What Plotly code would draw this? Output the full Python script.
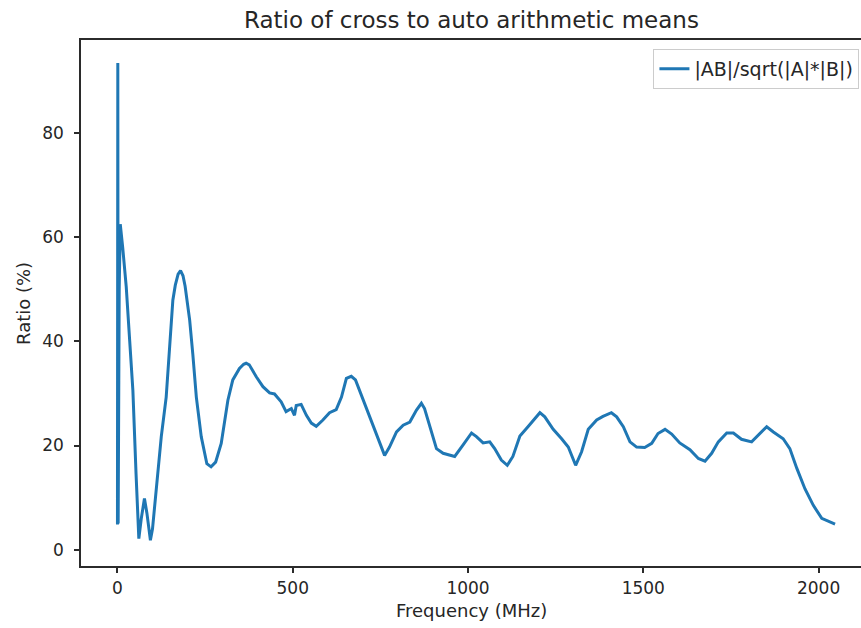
import plotly.graph_objects as go

# Frequency (MHz) and ratio (%)
freq = [0, 1, 2, 5, 8, 15, 25, 35, 44, 53, 61, 68, 77, 84, 94, 100, 110, 125, 139, 150, 158,
        165, 173, 180, 187, 193, 200, 206, 215, 225, 239, 255, 267, 280, 296, 315, 329, 348,
        360, 367, 376, 396, 415, 434, 448, 467, 481, 496, 505, 510, 524, 539, 553, 567, 586,
        605, 624, 639, 653, 667, 679, 700, 724, 748, 762, 776, 796, 815, 834, 853, 867, 876,
        895, 910, 929, 948, 962, 986, 1010, 1024, 1043, 1062, 1076, 1095, 1112, 1128, 1148,
        1171, 1190, 1205, 1219, 1243, 1267, 1286, 1307, 1324, 1343, 1367, 1385, 1409, 1424,
        1443, 1462, 1481, 1504, 1524, 1542, 1562, 1581, 1604, 1633, 1657, 1676, 1695, 1714,
        1738, 1757, 1780, 1809, 1828, 1852, 1871, 1899, 1918, 1938, 1961, 1985, 2009, 2028,
        2047]
ratio = [4.8, 93.5, 5.0, 50.0, 62.5, 58.0, 50.5, 40.0, 30.6, 14.6, 2.1, 6.0, 9.8, 7.0, 1.8,
         4.0, 11.4, 21.7, 29.3, 40.0, 47.9, 50.8, 52.9, 53.6, 52.6, 50.6, 47.5, 44.1, 37.5,
         29.3, 21.7, 16.5, 15.9, 16.8, 20.4, 28.7, 32.6, 34.8, 35.6, 35.8, 35.5, 33.2, 31.3,
         30.1, 29.9, 28.4, 26.5, 27.1, 25.8, 27.7, 27.9, 25.8, 24.3, 23.7, 24.9, 26.3, 26.9,
         29.3, 32.9, 33.3, 32.6, 29.0, 24.9, 20.4, 18.1, 19.7, 22.6, 23.9, 24.5, 26.8, 28.1,
         27.1, 22.9, 19.4, 18.5, 18.1, 17.9, 20.1, 22.4, 21.7, 20.5, 20.7, 19.4, 17.2, 16.2,
         17.9, 21.8, 23.6, 25.0, 26.3, 25.5, 23.1, 21.3, 19.7, 16.2, 18.8, 23.1, 24.9, 25.6,
         26.3, 25.5, 23.6, 20.7, 19.7, 19.6, 20.4, 22.3, 23.1, 22.2, 20.5, 19.2, 17.5, 17.0,
         18.5, 20.7, 22.4, 22.4, 21.2, 20.7, 22.0, 23.6, 22.6, 21.3, 19.4, 15.6, 11.7, 8.5,
         6.0, 5.5, 4.9]

x_ticks = [0, 500, 1000, 1500, 2000]
y_ticks = [0, 20, 40, 60, 80]

FONT = "DejaVu Sans"
TXT = "#262626"
AX = "#2b2b2b"

fig = go.Figure()
fig.add_trace(go.Scatter(
    x=freq, y=ratio, mode="lines", name="|AB|/sqrt(|A|*|B|)",
    line=dict(color="#1f77b4", width=3),
))

fig.update_layout(
    width=861, height=628,
    margin=dict(l=81, r=0, t=40, b=62),
    paper_bgcolor="white", plot_bgcolor="white",
    font=dict(family=FONT, size=18, color=TXT),
    showlegend=True,
    legend=dict(x=0.998, y=0.983, xanchor="right", yanchor="top",
                bgcolor="white", bordercolor="#cccccc", borderwidth=1,
                font=dict(family=FONT, size=19, color=TXT)),
    annotations=[
        dict(text="Ratio of cross to auto arithmetic means", xref="paper", yref="paper",
             x=0.5, y=1.038, xanchor="center", yanchor="middle", showarrow=False,
             font=dict(family=FONT, size=23, color=TXT)),
        dict(text="Frequency (MHz)", xref="paper", yref="paper",
             x=0.5, y=-0.0855, xanchor="center", yanchor="middle", showarrow=False,
             font=dict(family=FONT, size=18, color=TXT)),
        dict(text="Ratio (%)", xref="paper", yref="paper", textangle=-90,
             x=-0.0744, y=0.5, xanchor="center", yanchor="middle", showarrow=False,
             font=dict(family=FONT, size=18, color=TXT)),
    ],
)
fig.update_xaxes(range=[-104, 2121], tickvals=x_ticks, ticktext=[str(t) for t in x_ticks],
                 showgrid=False, zeroline=False, showline=True, mirror=True,
                 linecolor=AX, linewidth=1.6, ticks="outside", ticklen=5,
                 tickcolor=AX, tickwidth=1.6, ticklabelstandoff=1,
                 tickfont=dict(size=17, color=TXT))
fig.update_yaxes(range=[-3.15, 97.9], tickvals=y_ticks, ticktext=[str(t) for t in y_ticks],
                 showgrid=False, zeroline=False, showline=True, mirror=False,
                 linecolor=AX, linewidth=1.6, ticks="outside", ticklen=5,
                 tickcolor=AX, tickwidth=1.6, ticklabelstandoff=7,
                 tickfont=dict(size=17, color=TXT))

fig.write_html("out.html")
